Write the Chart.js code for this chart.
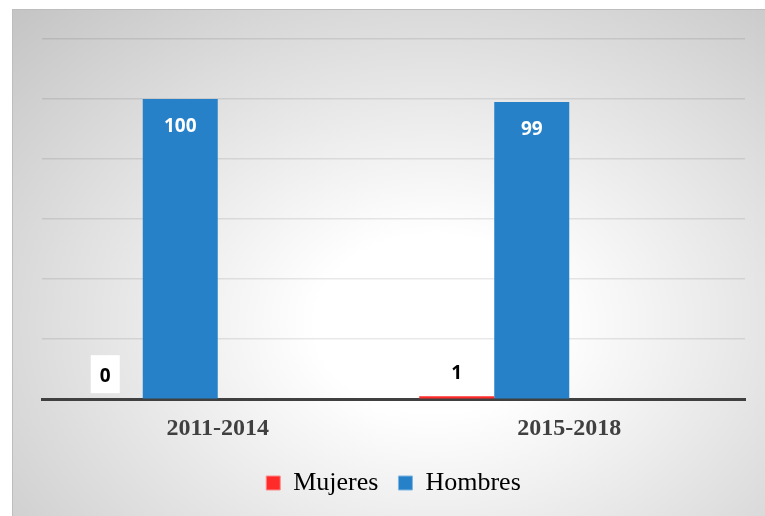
<!DOCTYPE html>
<html>
<head>
<meta charset="utf-8">
<script src="https://cdn.jsdelivr.net/npm/chart.js@4.4.1/dist/chart.umd.min.js"></script>
<style>
  html, body { margin: 0; padding: 0; background: #fff; }
  #panel {
    position: absolute; left: 12px; top: 9px; width: 753px; height: 507px;
    background: radial-gradient(ellipse farthest-corner at 56% 62%, #ffffff 0%, #ffffff 20%, #c4c4c4 100%);
    border-top: 1px solid #bdbdbd; border-left: 1px solid #bdbdbd;
    box-sizing: border-box;
  }
  #wrap { position: absolute; left: 0; top: 0; width: 765px; height: 516px; }
</style>
</head>
<body>
<div id="panel"></div>
<div id="wrap"><canvas id="chart"></canvas></div>
<script>
// data
const categories = ['2011-2014', '2015-2018'];
const mujeres = [0, 1];
const hombres = [100, 99];
const yTicks = [0, 20, 40, 60, 80, 100, 120];

const RED = '#FF2B2B';
const BLUE = '#2681C8';

// draws the value labels the way the original spreadsheet did
const valueLabels = {
    id: 'valueLabels',
    afterDatasetsDraw(chart) {
        const ctx = chart.ctx;
        ctx.save();
        ctx.textAlign = 'center';
        ctx.textBaseline = 'middle';
        ctx.font = "700 19px 'Open Sans', sans-serif";

        // Mujeres: black text on a white box above the bar
        chart.getDatasetMeta(0).data.forEach((bar, i) => {
            const txt = String(mujeres[i]);
            const cy = bar.y - 25;
            ctx.fillStyle = '#ffffff';
            ctx.fillRect(bar.x - 14.5, cy - 19, 29, 38);
            ctx.fillStyle = '#000000';
            ctx.fillText(txt, bar.x, cy + 2);
        });

        // Hombres: white text inside the top of the bar
        chart.getDatasetMeta(1).data.forEach((bar, i) => {
            ctx.fillStyle = '#ffffff';
            ctx.fillText(String(hombres[i]), bar.x, bar.y + 28);
        });
        ctx.restore();
    }
};

new Chart(document.getElementById('chart'), {
    type: 'bar',
    data: {
        labels: categories,
        datasets: [
            { label: 'Mujeres', data: mujeres, backgroundColor: RED, borderColor: '#ff8a8a', borderWidth: 0 },
            { label: 'Hombres', data: hombres, backgroundColor: BLUE, borderColor: '#7fb6e2', borderWidth: 0 },
            // two empty series keep the spacing of the original
            { label: '', data: [null, null] },
            { label: '', data: [null, null] }
        ]
    },
    options: {
        responsive: true,
        maintainAspectRatio: false,
        animation: false,
        datasets: {
            bar: {
                categoryPercentage: 0.8535,
                barPercentage: 1.0
            }
        },
        layout: {
            padding: { left: 42, right: 20, top: 39, bottom: 10 }
        },
        plugins: {
            legend: {
                position: 'bottom',
                labels: {
                    filter: (item) => item.datasetIndex < 2,
                    boxWidth: 14,
                    boxHeight: 14,
                    padding: 20,
                    color: '#111111',
                    font: { family: "'Liberation Serif', serif", size: 26 },
                    generateLabels: (chart) => chart.data.datasets.map((ds, i) => ({
                        text: ds.label,
                        fillStyle: ds.backgroundColor,
                        strokeStyle: ds.borderColor,
                        lineWidth: 1,
                        datasetIndex: i,
                        hidden: false
                    }))
                }
            },
            tooltip: { enabled: false }
        },
        scales: {
            x: {
                grid: { display: false },
                border: { display: true, color: '#404040', width: 3 },
                ticks: {
                    padding: 7,
                    color: '#404040',
                    font: { family: "'Liberation Serif', serif", size: 24, weight: 'bold' }
                }
            },
            y: {
                min: 0,
                max: 120,
                afterBuildTicks: (axis) => { axis.ticks = yTicks.map(v => ({ value: v })); },
                grid: { color: 'rgba(0,0,0,0.09)', lineWidth: 1.5, drawTicks: false },
                border: { display: false },
                ticks: { display: false }
            }
        }
    },
    plugins: [valueLabels]
});
</script>
</body>
</html>
